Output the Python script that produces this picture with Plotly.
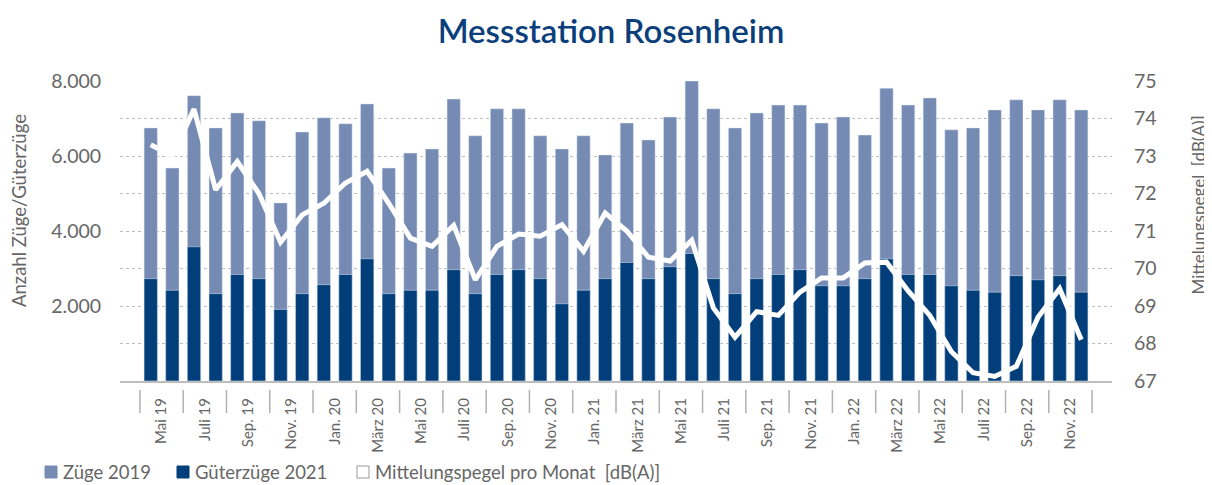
import plotly.graph_objects as go

months = ["Mai 19", "Juni 19", "Juli 19", "Aug. 19", "Sep. 19", "Okt. 19", "Nov. 19", "Dez. 19",
          "Jan. 20", "Feb. 20", "März 20", "Apr. 20", "Mai 20", "Juni 20", "Juli 20", "Aug. 20",
          "Sep. 20", "Okt. 20", "Nov. 20", "Dez. 20", "Jan. 21", "Feb. 21", "März 21", "Apr. 21",
          "Mai 21", "Juni 21", "Juli 21", "Aug. 21", "Sep. 21", "Okt. 21", "Nov. 21", "Dez. 21",
          "Jan. 22", "Feb. 22", "März 22", "Apr. 22", "Mai 22", "Juni 22", "Juli 22", "Aug. 22",
          "Sep. 22", "Okt. 22", "Nov. 22", "Dez. 22"]

zuege_2019 = [6750, 5680, 7610, 6750, 7150, 6940, 4750, 6640, 7020, 6860, 7390, 5680,
              6080, 6190, 7520, 6540, 7260, 7260, 6540, 6190, 6540, 6030, 6880, 6430,
              7040, 8000, 7260, 6750, 7150, 7360, 7360, 6880, 7040, 6560, 7810, 7360,
              7550, 6700, 6750, 7230, 7500, 7230, 7500, 7230]

gueterzuege_2021 = [2730, 2420, 3580, 2330, 2840, 2730, 1910, 2330, 2570, 2840, 3260, 2330,
                    2420, 2420, 2970, 2330, 2840, 2970, 2730, 2060, 2420, 2730, 3160, 2730,
                    3050, 3400, 2730, 2330, 2730, 2840, 2970, 2540, 2540, 2730, 3260, 2840,
                    2840, 2540, 2420, 2370, 2810, 2700, 2810, 2370]

pegel = [73.3, 73.0, 74.25, 72.1, 72.85, 72.0, 70.7, 71.43, 71.74, 72.28, 72.59, 71.74,
         70.81, 70.59, 71.15, 69.7, 70.59, 70.92, 70.86, 71.17, 70.46, 71.48, 71.0, 70.3,
         70.2, 70.75, 68.95, 68.17, 68.85, 68.75, 69.37, 69.75, 69.75, 70.15, 70.17, 69.4,
         68.75, 67.78, 67.22, 67.12, 67.39, 68.7, 69.46, 68.1]

tick_labels = ["Mai 19", "Juli 19", "Sep. 19", "Nov. 19", "Jan. 20", "März 20", "Mai 20",
               "Juli 20", "Sep. 20", "Nov. 20", "Jan. 21", "März 21", "Mai 21", "Juli 21",
               "Sep. 21", "Nov. 21", "Jan. 22", "März 22", "Mai 22", "Juli 22", "Sep. 22",
               "Nov. 22"]

left_ticks = [2000, 4000, 6000, 8000]
left_tick_text = ["2.000", "4.000", "6.000", "8.000"]
right_ticks = [67, 68, 69, 70, 71, 72, 73, 74, 75]

legend_names = ["Züge 2019", "Güterzüge 2021", "Mittelungspegel pro Monat  [dB(A)]"]

LIGHT = "#768bb4"
DARK = "#023f7a"
GRAY = "#666666"
FONT = "Lato"

# page offset (body margin) compensation
OFF = 8
W, H = 1212 - OFF, 485 - OFF
PL, PR, PT, PB = 120, 1112, 81, 381  # plot area in page pixels

x = list(range(len(months)))

fig = go.Figure()
fig.add_trace(go.Bar(x=x, y=zuege_2019, name=legend_names[0], marker_color=LIGHT,
                     width=0.615, customdata=months, hovertemplate="%{customdata}: %{y}<extra></extra>"))
fig.add_trace(go.Bar(x=x, y=gueterzuege_2021, name=legend_names[1], marker_color=DARK,
                     width=0.615, customdata=months, hovertemplate="%{customdata}: %{y}<extra></extra>"))
fig.add_trace(go.Scatter(x=x, y=pegel, yaxis="y2", mode="lines", name=legend_names[2],
                         line=dict(color="white", width=5), customdata=months,
                         hovertemplate="%{customdata}: %{y} dB(A)<extra></extra>"))


def px_x(p):
    return (p - PL) / float(PR - PL)


def px_y(p):
    return (PB - p) / float(PB - PT)


# tick marks between label pairs, below the axis line
shapes = []
for k in range(len(tick_labels) + 1):
    xv = -0.5 + 2 * k
    shapes.append(dict(type="line", xref="x", yref="paper", x0=xv, x1=xv,
                       y0=px_y(390), y1=px_y(413), line=dict(color="#b0b0b0", width=1.5)))

# custom legend (square swatches + text)
legend_items = [(45, LIGHT, LIGHT), (177, DARK, DARK), (357, "white", "#9a9a9a")]
annotations = []
for (sx, fill, edge), name in zip(legend_items, legend_names):
    shapes.append(dict(type="rect", xref="paper", yref="paper",
                       x0=px_x(sx), x1=px_x(sx + 12), y0=px_y(478), y1=px_y(466),
                       fillcolor=fill, line=dict(color=edge, width=1)))
    annotations.append(dict(text=name, xref="paper", yref="paper", x=px_x(sx + 16), y=px_y(472),
                            xanchor="left", yanchor="middle", showarrow=False,
                            font=dict(size=18.5, color=GRAY)))

annotations += [
    dict(text="Anzahl Züge/Güterzüge", xref="paper", yref="paper", x=px_x(19), y=px_y(211),
         xanchor="center", yanchor="middle",
         textangle=-90, showarrow=False, font=dict(size=18.5, color=GRAY)),
    dict(text="Mittelungspegel  [dB(A)]", xref="paper", yref="paper", x=px_x(1210), y=px_y(205),
         xanchor="right", yanchor="middle",
         textangle=-90, showarrow=False, font=dict(size=17, color=GRAY)),
]

fig.update_layout(
    width=W, height=H,
    margin=dict(l=PL - OFF, r=W - (PR - OFF), t=PT - OFF, b=H - (PB - OFF), autoexpand=False),
    barmode="overlay",
    showlegend=False,
    plot_bgcolor="white", paper_bgcolor="white",
    font=dict(family=FONT, color=GRAY, size=15),
    title=dict(text="Messstation Rosenheim", x=px_x(611), xref="paper", xanchor="center",
               y=1 - (31 - OFF) / H, yref="container", yanchor="middle",
               font=dict(family=FONT, size=33, color="#0b3f7c", weight=600)),
    xaxis=dict(range=[-1.42, 44.42], tickvals=[0.5 + 2 * i for i in range(len(tick_labels))],
               ticktext=tick_labels, tickangle=-90, ticks="outside", ticklen=9,
               tickcolor="rgba(0,0,0,0)", showgrid=False, zeroline=False, automargin=False,
               showline=True, linecolor="#bdbdbd", linewidth=2,
               tickfont=dict(size=15, color=GRAY)),
    yaxis=dict(range=[0, 8000], tickvals=left_ticks, ticktext=left_tick_text, showgrid=False,
               zeroline=False, ticks="outside", ticklen=14, tickcolor="rgba(0,0,0,0)",
               automargin=False, tickfont=dict(size=19.5, color=GRAY)),
    yaxis2=dict(range=[67, 75], tickvals=right_ticks, overlaying="y", side="right",
                showgrid=True, gridcolor="#bdbdbd", griddash="dot", gridwidth=1,
                zeroline=False, ticks="outside", ticklen=17, tickcolor="rgba(0,0,0,0)",
                automargin=False, tickfont=dict(size=19.5, color=GRAY)),
    shapes=shapes,
    annotations=annotations,
)

fig.write_html("out.html")
